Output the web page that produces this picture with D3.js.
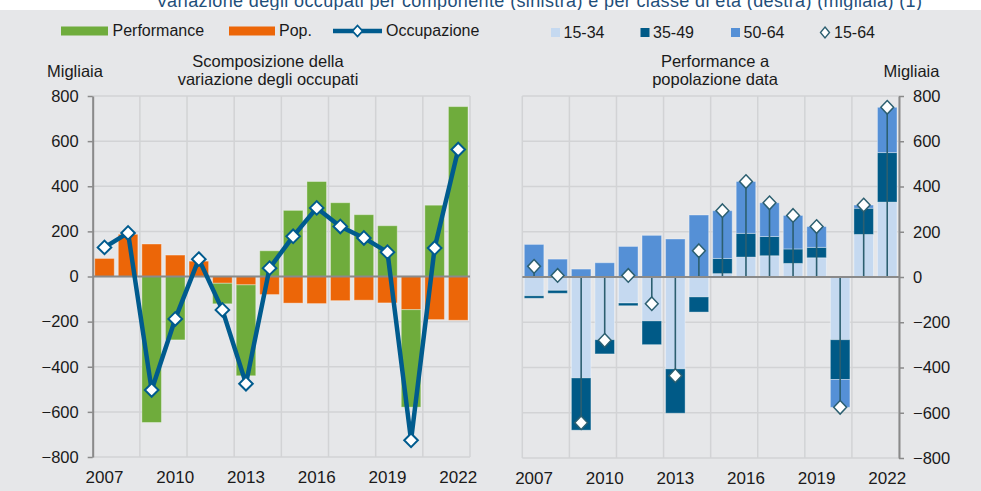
<!DOCTYPE html>
<html>
<head>
<meta charset="utf-8">
<script src="https://cdn.jsdelivr.net/npm/d3@7"></script>
<style>
  html, body { margin: 0; padding: 0; background: #ffffff; }
  svg { display: block; }
  text { font-family: "Liberation Sans", Arial, sans-serif; fill: #1a1a1a; }
</style>
</head>
<body>
<svg id="chart" width="981" height="491"></svg>
<script>
// ---- Data (migliaia) ----
const years = [2007, 2008, 2009, 2010, 2011, 2012, 2013, 2014, 2015, 2016, 2017, 2018, 2019, 2020, 2021, 2022];
const xTickYears = [2007, 2010, 2013, 2016, 2019, 2022];
const yTicks = [-800, -600, -400, -200, 0, 200, 400, 600, 800];

// Left panel: decomposition of the change in employment
const popolazione = [80, 187, 144, 95, 68, -30, -37, -80, -118, -120, -107, -105, -117, -147, -191, -194];
const performance = [0, 0, -647, -281, 0, -91, -403, 114, 293, 421, 327, 274, 225, -432, 316, 753];
const occupazione = [129, 193, -503, -188, 77, -148, -475, 37, 178, 304, 222, 171, 108, -726, 126, 563];

// Right panel: performance at given population, by age class
const eta1534 = [-83, -59, -446, -277, -115, -194, -406, -88, 15, 88, 94, 60, 85, -277, 188, 331];
const eta3549 = [-11, -13, -231, -63, -12, -105, -196, -67, 67, 105, 85, 64, 46, -176, 116, 219];
const eta5064 = [144, 79, 35, 63, 135, 184, 168, 274, 211, 229, 149, 148, 92, -123, 14, 200];
const eta1564 = [47, 7, -644, -280, 7, -118, -436, 116, 293, 422, 328, 272, 223, -576, 318, 750];

// ---- Styling ----
const C = {
  bg: "#e6e7e9",
  grid: "#d2d3d5",
  axis: "#8a8a8a",
  perf: "#6fac3c",
  pop: "#ec6608",
  occ: "#005b8e",
  a1534: "#c5d9f0",
  a3549: "#005a87",
  a5064: "#5590d6",
  drop: "#2c5f70",
  title: "#1f4f7a"
};
const FONT = 16;

const svg = d3.select("#chart");

// Heading strip at the top (only its lower edge falls in the frame)
svg.append("rect").attr("x", 0).attr("y", 0).attr("width", 981).attr("height", 491).attr("fill", "#ffffff");
svg.append("text")
  .attr("x", 156).attr("y", 6.5)
  .attr("textLength", 766).attr("lengthAdjust", "spacing")
  .style("font-size", "18px").style("fill", C.title)
  .text("Variazione degli occupati per componente (sinistra) e per classe di età (destra) (migliaia) (1)");
svg.append("rect").attr("x", 0).attr("y", 10).attr("width", 981).attr("height", 481).attr("fill", C.bg);

// ---- Legends ----
const lg = svg.append("g");
lg.append("rect").attr("x", 61).attr("y", 26.5).attr("width", 47).attr("height", 9).attr("fill", C.perf);
lg.append("text").attr("x", 112.5).attr("y", 36).style("font-size", FONT + "px").text("Performance");
lg.append("rect").attr("x", 229).attr("y", 26.5).attr("width", 46).attr("height", 9).attr("fill", C.pop);
lg.append("text").attr("x", 279).attr("y", 36).style("font-size", FONT + "px").text("Pop.");
lg.append("line").attr("x1", 333).attr("x2", 382).attr("y1", 31).attr("y2", 31)
  .attr("stroke", C.occ).attr("stroke-width", 4.5);
lg.append("path").attr("d", "M357.5,25.5L362.5,31L357.5,36.5L352.5,31Z")
  .attr("fill", "#fff").attr("stroke", C.occ).attr("stroke-width", 1.8);
lg.append("text").attr("x", 386).attr("y", 36).style("font-size", FONT + "px").text("Occupazione");

const rightLegend = [
  { x: 551, label: "15-34", color: C.a1534 },
  { x: 640.5, label: "35-49", color: C.a3549 },
  { x: 731, label: "50-64", color: C.a5064 }
];
rightLegend.forEach(d => {
  lg.append("rect").attr("x", d.x).attr("y", 28).attr("width", 9).attr("height", 9).attr("fill", d.color);
  lg.append("text").attr("x", d.x + 12.5).attr("y", 37.5).style("font-size", FONT + "px").text(d.label);
});
lg.append("path").attr("d", "M825,27L829.5,32.5L825,38L820.5,32.5Z")
  .attr("fill", "#fff").attr("stroke", C.drop).attr("stroke-width", 1.4);
lg.append("text").attr("x", 834).attr("y", 37.5).style("font-size", FONT + "px").text("15-64");

// ---- Shared panel frame ----
function panel(opts) {
  const { x0, x1, yTop, yBot, axisSide } = opts;
  const g = svg.append("g");
  const x = d3.scaleBand().domain(years).range([x0, x1]).paddingInner(0.17).paddingOuter(0.085);
  const y = d3.scaleLinear().domain([-800, 800]).range([yBot, yTop]);
  const half = x.step() * 0.17 / 2;

  // horizontal grid
  g.append("g").selectAll("line").data(yTicks).join("line")
    .attr("x1", x0).attr("x2", x1)
    .attr("y1", d => y(d)).attr("y2", d => y(d))
    .attr("stroke", C.grid).attr("stroke-width", 1.5);
  // vertical grid every two years
  const vgrid = years.filter((d, i) => i % 2 === 0).map(d => x(d) - half).concat([x1]);
  g.append("g").selectAll("line").data(vgrid).join("line")
    .attr("x1", d => d).attr("x2", d => d)
    .attr("y1", yTop).attr("y2", yBot)
    .attr("stroke", C.grid).attr("stroke-width", 1.5);

  const marks = g.append("g");
  const front = g.append("g");

  // zero line
  front.append("line").attr("x1", x0).attr("x2", x1).attr("y1", y(0)).attr("y2", y(0))
    .attr("stroke", C.axis).attr("stroke-width", 2.2);

  // value axis
  const ax = (axisSide === "left" ? d3.axisLeft(y) : d3.axisRight(y))
    .tickValues(yTicks).tickSize(5).tickSizeOuter(0).tickPadding(9);
  const axG = front.append("g")
    .attr("transform", `translate(${axisSide === "left" ? x0 : x1},0)`)
    .call(ax);
  axG.select(".domain").attr("stroke", C.axis).attr("stroke-width", 2);
  axG.selectAll(".tick line").attr("stroke", C.axis).attr("stroke-width", 1.5);
  axG.selectAll(".tick text").style("font-size", "16.5px").attr("fill", "#1a1a1a")
    .style("font-family", '"Liberation Sans", Arial, sans-serif');

  // year axis
  const bx = d3.axisBottom(x).tickValues(xTickYears).tickSize(0).tickPadding(14);
  const bxG = front.append("g").attr("transform", `translate(0,${yBot})`).call(bx);
  bxG.select(".domain").remove();
  bxG.selectAll(".tick text").style("font-size", "17px").attr("fill", "#1a1a1a")
    .style("font-family", '"Liberation Sans", Arial, sans-serif');

  return { g, x, y, marks, front };
}

// ---- Left panel ----
{
  const p = panel({ x0: 92.7, x1: 470, yTop: 96, yBot: 457, axisSide: "left" });
  const rows = years.map((yr, i) => ({ year: yr, pop: popolazione[i], perf: performance[i] }));
  const series = d3.stack().keys(["pop", "perf"]).offset(d3.stackOffsetDiverging)(rows);
  const colors = { pop: C.pop, perf: C.perf };
  series.forEach(s => {
    p.marks.append("g").selectAll("rect").data(s).join("rect")
      .attr("x", d => p.x(d.data.year))
      .attr("width", p.x.bandwidth())
      .attr("y", d => p.y(Math.max(d[0], d[1])))
      .attr("height", d => Math.abs(p.y(d[0]) - p.y(d[1])))
      .attr("fill", colors[s.key])
      .attr("stroke", "rgba(255,255,255,0.35)").attr("stroke-width", 1);
  });

  const cx = yr => p.x(yr) + p.x.bandwidth() / 2;
  const line = d3.line().x((d, i) => cx(years[i])).y(d => p.y(d));
  p.front.append("path").datum(occupazione).attr("d", line)
    .attr("fill", "none").attr("stroke", C.occ).attr("stroke-width", 4.5).attr("stroke-linejoin", "round");
  p.front.append("g").selectAll("path").data(occupazione).join("path")
    .attr("transform", (d, i) => `translate(${cx(years[i])},${p.y(d)})`)
    .attr("d", "M0,-6.8L6.8,0L0,6.8L-6.8,0Z")
    .attr("fill", "#fff").attr("stroke", C.occ).attr("stroke-width", 2);

  // titles
  svg.append("text").attr("x", 47).attr("y", 77).style("font-size", "16.5px").text("Migliaia");
  const t = svg.append("text").attr("x", 268).attr("text-anchor", "middle").style("font-size", "16.5px");
  t.append("tspan").attr("x", 268).attr("y", 66.5).text("Scomposizione della");
  t.append("tspan").attr("x", 268).attr("y", 85).text("variazione degli occupati");
}

// ---- Right panel ----
{
  const p = panel({ x0: 522.3, x1: 899, yTop: 96, yBot: 458, axisSide: "right" });
  const rows = years.map((yr, i) => ({ year: yr, a1534: eta1534[i], a3549: eta3549[i], a5064: eta5064[i] }));
  const series = d3.stack().keys(["a1534", "a3549", "a5064"]).offset(d3.stackOffsetDiverging)(rows);
  series.forEach(s => {
    p.marks.append("g").selectAll("rect").data(s).join("rect")
      .attr("x", d => p.x(d.data.year))
      .attr("width", p.x.bandwidth())
      .attr("y", d => p.y(Math.max(d[0], d[1])))
      .attr("height", d => Math.abs(p.y(d[0]) - p.y(d[1])))
      .attr("fill", C[s.key])
      .attr("stroke", "rgba(255,255,255,0.35)").attr("stroke-width", 1);
  });

  const cx = yr => p.x(yr) + p.x.bandwidth() / 2;
  // drop lines from zero to the 15-64 total
  p.marks.append("g").selectAll("line").data(eta1564).join("line")
    .attr("x1", (d, i) => cx(years[i])).attr("x2", (d, i) => cx(years[i]))
    .attr("y1", p.y(0)).attr("y2", d => p.y(d))
    .attr("stroke", C.drop).attr("stroke-width", 1.6);
  p.front.append("g").selectAll("path").data(eta1564).join("path")
    .attr("transform", (d, i) => `translate(${cx(years[i])},${p.y(d)})`)
    .attr("d", "M0,-6.8L6.4,0L0,6.8L-6.4,0Z")
    .attr("fill", "#fff").attr("stroke", C.drop).attr("stroke-width", 1.5);

  svg.append("text").attr("x", 883.5).attr("y", 77).style("font-size", "16.5px").text("Migliaia");
  const t = svg.append("text").attr("text-anchor", "middle").style("font-size", "16.5px");
  t.append("tspan").attr("x", 715).attr("y", 66.5).text("Performance a");
  t.append("tspan").attr("x", 715).attr("y", 85).text("popolazione data");
}
</script>
</body>
</html>
